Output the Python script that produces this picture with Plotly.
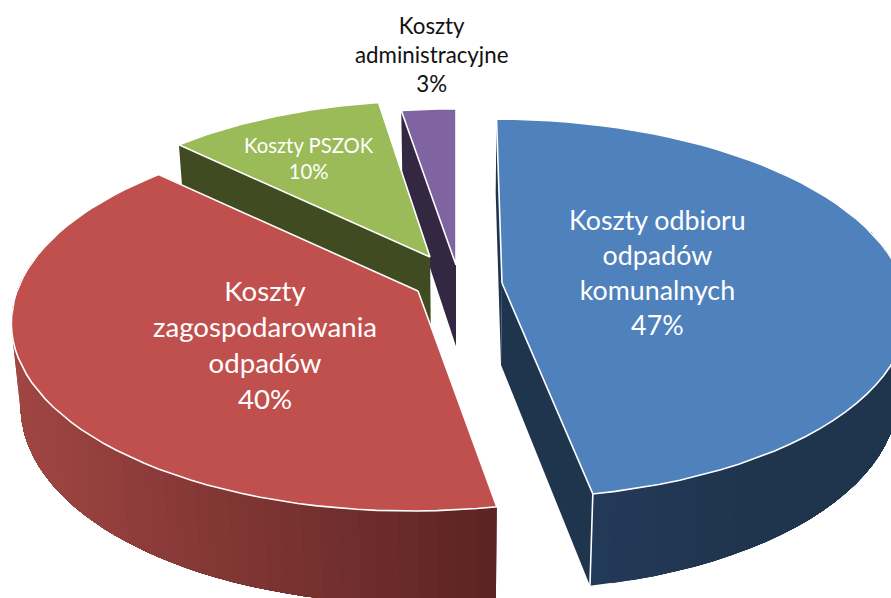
import numpy as np
import plotly.graph_objects as go

# --- data ---
categories = ["Koszty odbioru<br>odpadów<br>komunalnych",
              "Koszty<br>zagospodarowania<br>odpadów",
              "Koszty PSZOK",
              "Koszty<br>administracyjne"]
shares = [47.1, 40.0, 10.3, 2.6]

# --- style / geometry ---
top_colors = ["#4f81bd", "#c0504d", "#9bbb59", "#8064a2"]
face_colors = ["#1f344d", "#5c2422", "#404b21", "#332742"]
wall_left = ["#243a5a", "#a04643", "#404b21", "#332742"]
wall_right = ["#1f344d", "#5c2422", "#404b21", "#332742"]
apex_x = [502, 418, 430, 456]
apex_y = [283, 291, 257, 265]
radius = [1.0, 1.0, 0.96, 0.96]
persp = [0.135, 0.152, 0.152, 0.152]
depth_a = [186.0, 186.6, 186.6, 186.6]
label_x = [657, 265, 309, 431]
label_y = [272.5, 344.5, 158, 54]
label_size = [26.8, 27.6, 20.3, 22.3]
label_color = ["white", "white", "white", "#111111"]

VP_X, B = 456.0, 401.0


def project(theta, i):
    """Perspective position of a rim/centre point for polar angle theta (deg, clockwise from top)."""
    th = np.radians(theta)
    u, v = np.sin(th) * radius[i], np.cos(th) * radius[i]
    w = 1 + persp[i] * v
    x = apex_x[i] + (B * u + persp[i] * (VP_X - apex_x[i]) * v) / w
    y = apex_y[i] - depth_a[i] * v / w
    return x, y


def lower(x, y):
    """Same point on the lower face of the disc."""
    x = np.asarray(x, float)
    y = np.asarray(y, float)
    return VP_X + (x - VP_X) * 0.979, y + 82 + 0.047 * (y - 283)


def mix(c1, c2, t):
    a = [int(c1[k:k + 2], 16) for k in (1, 3, 5)]
    b = [int(c2[k:k + 2], 16) for k in (1, 3, 5)]
    return "rgb(%d,%d,%d)" % tuple(round(p + (q - p) * t) for p, q in zip(a, b))


fig = go.Figure()


def poly(x, y, fill, line=None, width=0.0):
    x, y = list(x), list(y)
    fig.add_trace(go.Scatter(
        x=x + [x[0]], y=y + [y[0]], mode="lines", fill="toself",
        fillcolor=fill, line=dict(color=line or fill, width=width),
        hoverinfo="skip", showlegend=False))


edges = np.concatenate([[0], np.cumsum(shares)]) / sum(shares) * 360
for i in [3, 2, 1, 0]:
    start, end = edges[i], edges[i + 1]
    thetas = np.linspace(start, end, 60)
    rx, ry = project(thetas, i)
    bx, by = lower(rx, ry)
    ax, ay = apex_x[i], apex_y[i]
    abx, aby = lower(ax, ay)
    # radial cut faces
    for k in (0, -1):
        poly([ax, rx[k], bx[k], abx], [ay, ry[k], by[k], aby], face_colors[i])
    # outer wall: overlapping bands, each running to the wall's far end, give a smooth shade
    if i < 2:
        t_wall = np.linspace(start, end, 61)
        t_wall = t_wall[np.cos(np.radians(t_wall)) < 0.3]
        wx, wy = project(t_wall, i)
        wbx, wby = lower(wx, wy)
        x_lo, x_hi = (12, 500) if i == 1 else (594, 760)
        if i == 1:
            # red: rim runs from the front corner to the left; each band covers the rest
            for k in range(len(t_wall) - 1):
                f = np.clip((wx[k] - x_lo) / (x_hi - x_lo), 0, 1)
                poly(np.concatenate([wx[k:], wbx[k:][::-1]]),
                     np.concatenate([wy[k:], wby[k:][::-1]]),
                     mix(wall_left[i], wall_right[i], f))
        else:
            # blue: rim runs from the right to the front corner
            for k in range(len(t_wall) - 2, -1, -1):
                f = np.clip((wx[k] - x_lo) / (x_hi - x_lo), 0, 1)
                poly(np.concatenate([wx[:k + 2], wbx[:k + 2][::-1]]),
                     np.concatenate([wy[:k + 2], wby[:k + 2][::-1]]),
                     mix(wall_left[i], wall_right[i], f))
    # white corner edge between the cut face and the wall
    if i == 0:
        fig.add_trace(go.Scatter(x=[rx[-1], bx[-1]], y=[ry[-1], by[-1]], mode="lines",
                                 line=dict(color="white", width=1.6),
                                 hoverinfo="skip", showlegend=False))
    # top face
    poly(np.concatenate([[ax], rx]), np.concatenate([[ay], ry]),
         top_colors[i], "white", 1.6)

for i, name in enumerate(categories):
    fig.add_annotation(x=label_x[i], y=label_y[i], xref="x", yref="y",
                       text=f"{name}<br>{round(shares[i])}%", showarrow=False, align="center",
                       font=dict(family="Lato", size=label_size[i], color=label_color[i]))

fig.update_layout(
    width=891, height=598, autosize=False,
    margin=dict(l=0, r=0, t=0, b=0),
    paper_bgcolor="white", plot_bgcolor="white",
    xaxis=dict(range=[0, 891], visible=False, fixedrange=True),
    yaxis=dict(range=[598, 0], visible=False, fixedrange=True),
)
fig.write_html("out.html", config={"displayModeBar": False},
               post_script="document.body.style.margin='0';document.body.style.overflow='hidden';")
